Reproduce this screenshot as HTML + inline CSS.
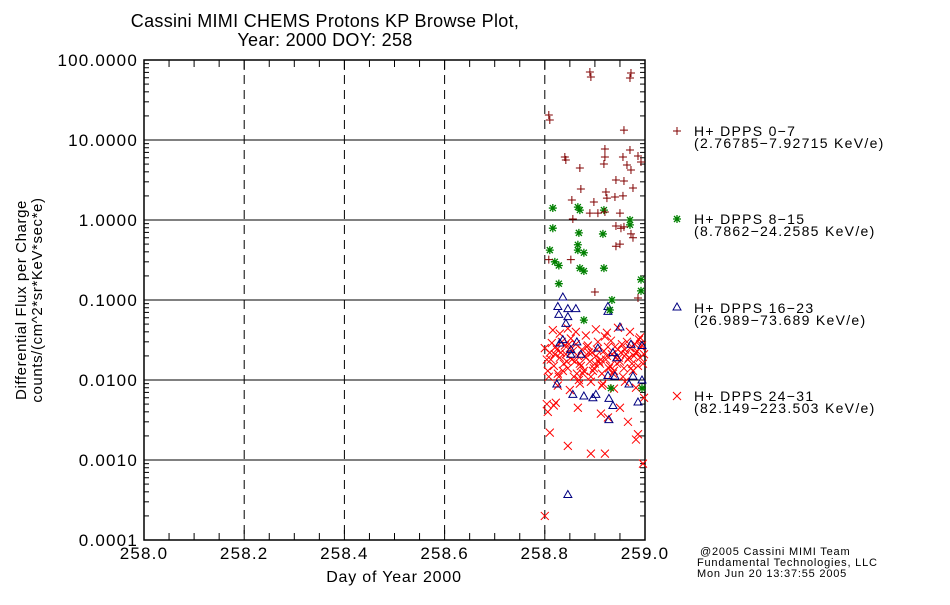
<!DOCTYPE html>
<html><head><meta charset="utf-8"><style>
html,body{margin:0;padding:0;background:#fff;}
svg text{font-family:"Liberation Sans",sans-serif;}
</style></head><body>
<svg id="chart" width="950" height="600" xmlns="http://www.w3.org/2000/svg">
<rect width="950" height="600" fill="#fff"/>
<text x="325" y="27" font-size="18" text-anchor="middle" letter-spacing="0.3">Cassini MIMI CHEMS Protons KP Browse Plot,</text>
<text x="325" y="46" font-size="18" text-anchor="middle" letter-spacing="0.3">Year: 2000 DOY: 258</text>
<g id="grid"></g>
<g id="axes"></g>
<g id="marks"></g>
<text x="394" y="582" font-size="16" text-anchor="middle" letter-spacing="0.8">Day of Year 2000</text>
<text transform="translate(26,300) rotate(-90)" font-size="15" text-anchor="middle" letter-spacing="0.6">Differential Flux per Charge</text>
<text transform="translate(42,300) rotate(-90)" font-size="15" text-anchor="middle" letter-spacing="0.6">counts/(cm^2*sr*KeV*sec*e)</text>
<g font-size="14" letter-spacing="1.3">
<g><path d="M673,131H681M677,127V135" stroke="#800000"/><text x="694" y="136">H+ DPPS 0−7</text><text x="694" y="148">(2.76785−7.92715 KeV/e)</text></g>
<g><path d="M673,219H681M677,215V223M674,216L680,222M674,222L680,216" stroke="#008000" stroke-width="1.3"/><text x="694" y="224">H+ DPPS 8−15</text><text x="694" y="236">(8.7862−24.2585 KeV/e)</text></g>
<g><path d="M677,303L681,310H673Z" stroke="#000080" fill="none"/><text x="694" y="313">H+ DPPS 16−23</text><text x="694" y="325">(26.989−73.689 KeV/e)</text></g>
<g><path d="M673,392L681,400M673,400L681,392" stroke="#ff0000"/><text x="694" y="401">H+ DPPS 24−31</text><text x="694" y="413">(82.149−223.503 KeV/e)</text></g>
</g>
<g font-size="11" letter-spacing="0.8">
<text x="700" y="555">@2005 Cassini MIMI Team</text>
<text x="697" y="566">Fundamental Technologies, LLC</text>
<text x="697" y="577">Mon Jun 20 13:37:55 2005</text>
</g>
</svg>
<script>
const xTicks=[258.0,258.2,258.4,258.6,258.8,259.0];
const xTickLabels=["258.0","258.2","258.4","258.6","258.8","259.0"];
const yTicks=[100,10,1,0.1,0.01,0.001,0.0001];
const yTickLabels=["100.0000","10.0000","1.0000","0.1000","0.0100","0.0010","0.0001"];
const dpps07Day=[258.808,258.81,258.89,258.892,258.972,258.97,258.958,258.84,258.842,258.87,258.92,258.92,258.918,258.956,258.97,258.964,258.972,258.986,258.992,258.942,258.958,258.976,258.872,258.922,258.924,258.94,258.956,258.854,258.898,258.89,258.906,258.92,258.95,258.856,258.942,258.952,258.958,258.972,258.976,258.942,258.95,258.808,258.852,258.9,258.986];
const dpps07Flux=[20.5,17.8,70.8,61.3,68.8,59.6,13.3,6.13,5.62,4.47,7.72,6.13,5.01,6.13,7.5,4.87,4.22,6.31,5.31,3.16,3.07,2.51,2.44,2.24,1.88,1.94,2.0,1.78,1.68,1.22,1.22,1.26,1.22,1.03,0.84,0.79,0.82,0.67,0.6,0.47,0.5,0.32,0.32,0.126,0.106];
const dpps815Day=[258.816,258.866,258.87,258.918,258.97,258.97,258.816,258.868,258.916,258.866,258.866,258.878,258.81,258.82,258.828,258.87,258.878,258.918,258.828,258.992,258.992,258.934,258.93,258.878,258.994,258.932];
const dpps815Flux=[1.41,1.45,1.33,1.33,1.0,0.87,0.79,0.69,0.67,0.49,0.42,0.39,0.42,0.30,0.27,0.25,0.23,0.25,0.16,0.18,0.13,0.1,0.075,0.056,0.0079,0.0079];
const dpps1623Day=[258.836,258.826,258.846,258.862,258.828,258.846,258.842,258.836,258.864,258.926,258.926,258.95,258.972,258.994,258.83,258.852,258.872,258.852,258.906,258.936,258.944,258.926,258.94,258.824,258.856,258.878,258.902,258.968,258.976,258.994,258.896,258.928,258.936,258.846,258.928,258.986];
const dpps1623Flux=[0.109,0.083,0.078,0.078,0.066,0.062,0.051,0.032,0.030,0.083,0.072,0.046,0.028,0.027,0.029,0.024,0.021,0.021,0.025,0.022,0.019,0.0114,0.0112,0.0089,0.0066,0.0063,0.0066,0.0089,0.0112,0.010,0.0060,0.0059,0.0048,0.00037,0.0032,0.0053];
const dpps2431Day=[258.804,258.81,258.818,258.822,258.826,258.83,258.834,258.838,258.842,258.846,258.85,258.854,258.858,258.862,258.866,258.87,258.874,258.878,258.882,258.886,258.89,258.894,258.898,258.902,258.906,258.91,258.914,258.918,258.922,258.926,258.93,258.934,258.938,258.942,258.946,258.95,258.954,258.958,258.962,258.966,258.97,258.974,258.978,258.982,258.986,258.99,258.994,258.998,258.806,258.814,258.824,258.832,258.844,258.852,258.864,258.872,258.884,258.892,258.904,258.912,258.924,258.932,258.944,258.952,258.964,258.972,258.984,258.992,258.812,258.828,258.84,258.856,258.868,258.88,258.896,258.908,258.92,258.936,258.948,258.96,258.976,258.988,258.996,258.82,258.836,258.848,258.86,258.876,258.888,258.9,258.916,258.928,258.94,258.956,258.968,258.98,258.808,258.826,258.85,258.87,258.892,258.914,258.938,258.96,258.982,258.8,258.816,258.83,258.846,258.862,258.882,258.902,258.924,258.946,258.97,258.99,258.804,258.818,258.822,258.866,258.912,258.926,258.95,258.966,258.998,258.806,258.81,258.846,258.892,258.92,258.986,258.982,258.8,258.996];
const dpps2431Flux=[0.018,0.022,0.015,0.026,0.012,0.019,0.03,0.016,0.021,0.014,0.025,0.018,0.011,0.028,0.02,0.016,0.024,0.013,0.019,0.027,0.017,0.022,0.014,0.02,0.03,0.016,0.012,0.023,0.018,0.026,0.015,0.021,0.013,0.019,0.024,0.017,0.028,0.014,0.021,0.018,0.025,0.016,0.02,0.022,0.015,0.019,0.027,0.021,0.013,0.029,0.024,0.022,0.017,0.033,0.012,0.015,0.026,0.011,0.024,0.018,0.02,0.031,0.016,0.022,0.03,0.014,0.023,0.026,0.018,0.011,0.027,0.023,0.01,0.02,0.013,0.017,0.035,0.012,0.019,0.024,0.013,0.032,0.016,0.021,0.013,0.028,0.017,0.012,0.022,0.016,0.009,0.014,0.026,0.011,0.019,0.028,0.011,0.0085,0.0075,0.009,0.0095,0.0085,0.0078,0.0095,0.008,0.025,0.042,0.038,0.044,0.04,0.036,0.043,0.039,0.045,0.04,0.034,0.005,0.0048,0.0052,0.0045,0.0038,0.0034,0.0045,0.003,0.006,0.004,0.0022,0.0015,0.0012,0.0012,0.0021,0.0018,0.0002,0.0009];

const L=144,R=645,T=60,B=540;
function xs(d){return L+(d-258)/1*(R-L);}
function ys(v){return T+(2-Math.log10(v))*(B-T)/6;}
const NS="http://www.w3.org/2000/svg";
function mk(tag,attrs,parent){const e=document.createElementNS(NS,tag);for(const k in attrs)e.setAttribute(k,attrs[k]);parent.appendChild(e);return e;}
const grid=document.getElementById('grid'),axes=document.getElementById('axes'),marks=document.getElementById('marks');
yTicks.forEach((v,i)=>{
  const y=ys(v);
  if(i>0&&i<yTicks.length-1){const g=mk('line',{x1:L,x2:R,y1:y,y2:y,stroke:'#000','stroke-width':1},grid);
  
  }
  const t=mk('text',{x:L-6,y:y+6,'font-size':17,'text-anchor':'end','letter-spacing':1.2},axes);t.textContent=yTickLabels[i];
  
  
  if(i<yTicks.length-1){for(let m=2;m<10;m++){const ym=ys(v/10*m);
    mk('line',{x1:L,x2:L+5,y1:ym,y2:ym,stroke:'#000'},axes);mk('line',{x1:R-5,x2:R,y1:ym,y2:ym,stroke:'#000'},axes);}}
});
xTicks.forEach((d,i)=>{
  const x=xs(d);
  if(i>0&&i<xTicks.length-1){const g=mk('line',{x1:x,x2:x,y1:T,y2:B,stroke:'#000','stroke-dasharray':'9,6'},grid);
  
  }
  const t=mk('text',{x:x,y:B+19,'font-size':17,'text-anchor':'middle','letter-spacing':1.2},axes);t.textContent=xTickLabels[i];
  
  
});
for(let k=1;k<20;k++){const x=xs(258+k*0.05);const len=(k%4===0)?10:7;
  mk('line',{x1:x,x2:x,y1:T,y2:T+len,stroke:'#000'},axes);mk('line',{x1:x,x2:x,y1:B-len,y2:B,stroke:'#000'},axes);}
const fr=mk('rect',{x:L,y:T,width:R-L,height:B-T,fill:'none',stroke:'#000','stroke-width':1.5},axes);


function plus(x,y,c){return `<path d="M${x-4},${y}H${x+4}M${x},${y-4}V${y+4}" stroke="${c}" fill="none"/>`;}
function star(x,y,c){return `<path d="M${x-4},${y}H${x+4}M${x},${y-4}V${y+4}M${x-3},${y-3}L${x+3},${y+3}M${x-3},${y+3}L${x+3},${y-3}" stroke="${c}" fill="none" stroke-width="1.3"/>`;}
function tri(x,y,c){return `<path d="M${x},${y-4}L${x+4},${y+3}H${x-4}Z" stroke="${c}" fill="none"/>`;}
function cross(x,y,c){return `<path d="M${x-4},${y-4}L${x+4},${y+4}M${x-4},${y+4}L${x+4},${y-4}" stroke="${c}" fill="none"/>`;}
function series(days,flux,fn,c,name){
  const g=mk('g',{},marks);
  
  
  let s='';for(let i=0;i<days.length;i++)s+=fn(xs(days[i]),ys(flux[i]),c);g.innerHTML=s;}
series(dpps2431Day,dpps2431Flux,cross,'#ff0000','series-dpps-24-31');
series(dpps1623Day,dpps1623Flux,tri,'#000080','series-dpps-16-23');
series(dpps815Day,dpps815Flux,star,'#008000','series-dpps-8-15');
series(dpps07Day,dpps07Flux,plus,'#800000','series-dpps-0-7');
</script>
</body></html>
